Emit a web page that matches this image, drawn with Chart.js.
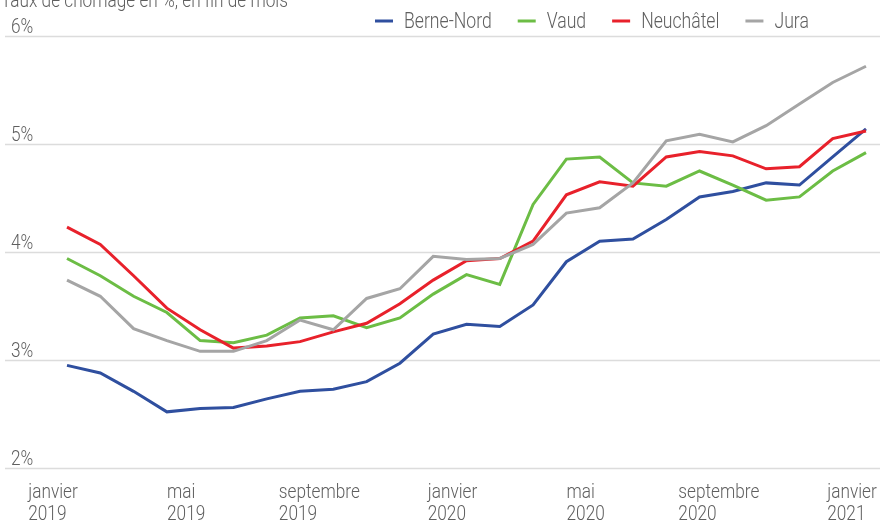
<!DOCTYPE html>
<html>
<head>
<meta charset="utf-8">
<script src="https://cdn.jsdelivr.net/npm/chart.js@4"></script>
<style>
  body { margin: 0; background: #fff; }
  #wrap { width: 880px; height: 520px; position: relative; }
</style>
</head>
<body>
<div id="wrap"><canvas id="grafico_chomage"></canvas></div>
<script>
let ctx = document.getElementById('grafico_chomage')

const police = "Roboto, 'Liberation Sans', sans-serif"
const gris = '#5f5f5f'
const serre = 0.82 // resserrement horizontal (police étroite de l'original)

// données (taux de chômage en %, fin de mois)
const mois = [
  ['janvier', '2019'], ['février', '2019'], ['mars', '2019'], ['avril', '2019'],
  ['mai', '2019'], ['juin', '2019'], ['juillet', '2019'], ['août', '2019'],
  ['septembre', '2019'], ['octobre', '2019'], ['novembre', '2019'], ['décembre', '2019'],
  ['janvier', '2020'], ['février', '2020'], ['mars', '2020'], ['avril', '2020'],
  ['mai', '2020'], ['juin', '2020'], ['juillet', '2020'], ['août', '2020'],
  ['septembre', '2020'], ['octobre', '2020'], ['novembre', '2020'], ['décembre', '2020'],
  ['janvier', '2021']
]

const berneNord = [2.95, 2.88, 2.71, 2.52, 2.55, 2.56, 2.64, 2.71, 2.73, 2.80, 2.97, 3.24, 3.33, 3.31, 3.51, 3.91, 4.10, 4.12, 4.30, 4.51, 4.56, 4.64, 4.62, 4.88, 5.14]
const vaud = [3.94, 3.78, 3.59, 3.44, 3.18, 3.16, 3.23, 3.39, 3.41, 3.30, 3.39, 3.61, 3.79, 3.70, 4.44, 4.86, 4.88, 4.64, 4.61, 4.75, 4.62, 4.48, 4.51, 4.75, 4.92]
const neuchatel = [4.23, 4.07, 3.78, 3.48, 3.28, 3.11, 3.13, 3.17, 3.26, 3.34, 3.52, 3.74, 3.92, 3.94, 4.10, 4.53, 4.65, 4.61, 4.88, 4.93, 4.89, 4.77, 4.79, 5.05, 5.12]
const jura = [3.74, 3.59, 3.29, 3.18, 3.08, 3.08, 3.18, 3.37, 3.28, 3.57, 3.66, 3.96, 3.93, 3.94, 4.07, 4.36, 4.41, 4.64, 5.03, 5.09, 5.02, 5.17, 5.37, 5.57, 5.72]

const graduationsY = [2, 3, 4, 5, 6]
const titre = 'Taux de chômage en %, en fin de mois'

const series = [
  { label: 'Berne-Nord', data: berneNord, color: '#2f4f9f' },
  { label: 'Vaud', data: vaud, color: '#6cbd45' },
  { label: 'Neuchâtel', data: neuchatel, color: '#e8212b' },
  { label: 'Jura', data: jura, color: '#a5a5a5' }
]

function texte(c, t, x, y) {
  c.save()
  c.translate(x, y)
  c.scale(serre, 1)
  c.fillText(t, 0, 0)
  c.restore()
}
function largeur(c, t) {
  return c.measureText(t).width * serre
}

// grille + textes dessinés à la main (style Excel)
const habillage = {
  id: 'habillage',
  beforeDatasetsDraw(chart) {
    const c = chart.ctx
    const y = chart.scales.y
    c.save()
    c.strokeStyle = '#dcdcdc'
    c.lineWidth = 1.5
    graduationsY.forEach(v => {
      const py = Math.round(y.getPixelForValue(v)) + 0.5
      c.beginPath()
      c.moveTo(5, py)
      c.lineTo(chart.width, py)
      c.stroke()
    })
    c.restore()
  },
  afterDraw(chart) {
    const c = chart.ctx
    const x = chart.scales.x
    const y = chart.scales.y
    c.save()
    c.fillStyle = gris
    c.textBaseline = 'alphabetic'
    c.textAlign = 'left'

    // titre (coupé en haut comme l'original)
    c.font = '300 21px ' + police
    texte(c, titre, 1, 7)

    // étiquettes axe y
    graduationsY.forEach(v => {
      texte(c, v + '%', 11, y.getPixelForValue(v) - 3)
    })

    // étiquettes axe x, tous les 4 mois
    mois.forEach((m, i) => {
      if (i % 4 !== 0) return
      const px = x.getPixelForValue(i)
      const w = Math.max(...m.map(t => largeur(c, t)))
      const gauche = px - 14 - w / 2
      texte(c, m[0], gauche, 498)
      texte(c, m[1], gauche, 520)
    })

    // légende
    c.font = '300 21.5px ' + police
    let lx = 375
    series.forEach(s => {
      c.strokeStyle = s.color
      c.lineWidth = 3
      c.beginPath()
      c.moveTo(lx, 21)
      c.lineTo(lx + 18, 21)
      c.stroke()
      texte(c, s.label, lx + 29, 28)
      lx += 29 + largeur(c, s.label) + 26
    })
    c.restore()
  }
}

const data = {
  labels: mois,
  datasets: series.map((s, i) => ({
    label: s.label,
    data: s.data,
    borderColor: s.color,
    backgroundColor: s.color,
    borderWidth: 3,
    pointRadius: 0,
    tension: 0,
    order: series.length - i
  }))
}

const config = {
  type: 'line',
  data,
  options: {
    responsive: true,
    maintainAspectRatio: false,
    animation: false,
    layout: { padding: { left: 67, right: 14, top: 36, bottom: 52 } },
    scales: {
      x: { display: false, offset: false },
      y: { display: false, min: 2, max: 6 }
    },
    plugins: {
      legend: { display: false },
      tooltip: { enabled: false }
    }
  },
  plugins: [habillage]
}

const graph = new Chart(ctx, config)
</script>
</body>
</html>
